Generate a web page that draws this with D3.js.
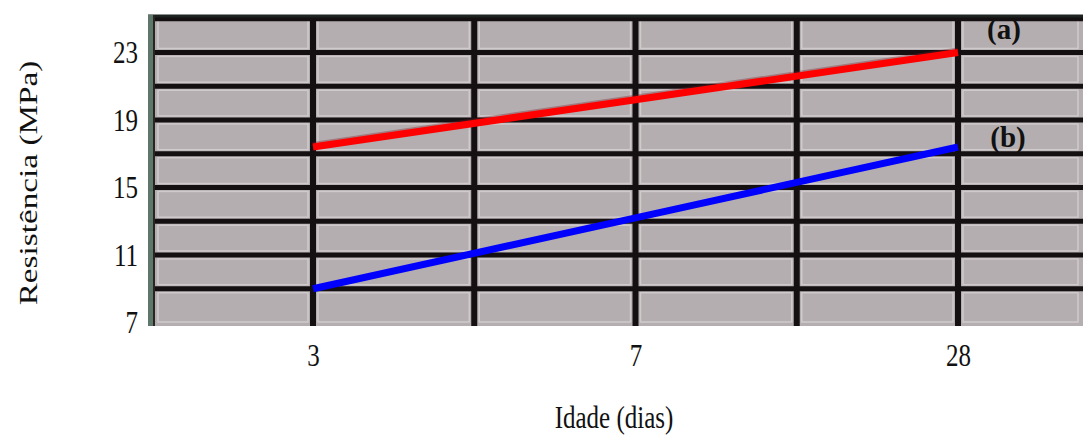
<!DOCTYPE html>
<html>
<head>
<meta charset="utf-8">
<script src="https://cdn.jsdelivr.net/npm/d3@7"></script>
<style>
  html, body { margin: 0; padding: 0; background: #ffffff; }
  svg { display: block; }
  text { font-family: "Liberation Serif", "Times New Roman", serif; fill: #111; }
</style>
</head>
<body>
<svg id="chart" width="1083" height="436"></svg>
<script>
// Compressive strength by age
const ages = ["3", "7", "28"];
const seriesA = [17.4, 20.2, 23.0];   // (a)
const seriesB = [9.0, 13.2, 17.4];    // (b)
const yTicks = [7, 11, 15, 19, 23];
const gridValues = [9, 11, 13, 15, 17, 19, 21, 23, 25];

const plot = { left: 148, right: 1083, top: 15, bottom: 326 };
const stretch = 1.3;   // type is drawn taller than wide

const svg = d3.select("#chart");

const x = d3.scalePoint().domain(ages).range([313, 958]);
const y = d3.scaleLinear().domain([6.79, 25.22]).range([plot.bottom, plot.top]);

// Tiled board behind the plot
svg.append("rect")
  .attr("x", plot.left).attr("y", plot.top)
  .attr("width", plot.right - plot.left).attr("height", plot.bottom - plot.top)
  .attr("fill", "#b5aeb0");

// Light bevel just inside each tile edge
const hLines = gridValues.map(v => y(v));
const rowEdges = [plot.top].concat(hLines.filter(v => v > plot.top + 4)).concat([plot.bottom]).sort((a, b) => a - b);
const vMid = [(x("3") + x("7")) / 2, (x("7") + x("28")) / 2];
const vLines = [x("3"), vMid[0], x("7"), vMid[1], x("28")];
const colEdges = [plot.left + 5].concat(vLines).concat([plot.right]);
const tiles = svg.append("g");
for (let r = 0; r < rowEdges.length - 1; r++) {
  for (let c = 0; c < colEdges.length - 1; c++) {
    const x0 = colEdges[c] + 5, x1 = colEdges[c + 1] - 5;
    const y0 = rowEdges[r] + 4, y1 = rowEdges[r + 1] - 4;
    if (x1 - x0 < 4 || y1 - y0 < 4) continue;
    tiles.append("rect")
      .attr("x", x0).attr("y", y0)
      .attr("width", x1 - x0).attr("height", y1 - y0)
      .attr("fill", "none")
      .attr("stroke", "#d6d1d2").attr("stroke-width", 1.5).attr("opacity", 0.8);
  }
}

// Grout lines
const grid = svg.append("g").attr("stroke", "#141012");
grid.selectAll("line.h").data(gridValues.filter(v => y(v) > plot.top + 2)).join("line")
  .attr("class", "h")
  .attr("x1", plot.left).attr("x2", plot.right)
  .attr("y1", d => y(d)).attr("y2", d => y(d))
  .attr("stroke-width", 5);
grid.selectAll("line.v").data(vLines).join("line")
  .attr("class", "v")
  .attr("x1", d => d).attr("x2", d => d)
  .attr("y1", plot.top).attr("y2", plot.bottom)
  .attr("stroke-width", 6);

// Board edges
svg.append("line")
  .attr("x1", plot.left).attr("x2", plot.right)
  .attr("y1", plot.top + 1).attr("y2", plot.top + 1)
  .attr("stroke", "#1d2420").attr("stroke-width", 3);
svg.append("rect")
  .attr("x", plot.left).attr("y", plot.top)
  .attr("width", 6).attr("height", plot.bottom - plot.top)
  .attr("fill", "#5d786a");
svg.append("line")
  .attr("x1", plot.left + 6).attr("x2", plot.left + 6)
  .attr("y1", plot.top).attr("y2", plot.bottom)
  .attr("stroke", "#2a2424").attr("stroke-width", 2);

// Series lines
const line = d3.line().x((d, i) => x(ages[i])).y(d => y(d));
svg.append("path").datum(seriesA)
  .attr("d", line).attr("fill", "none")
  .attr("stroke", "#7a1a22").attr("stroke-width", 7).attr("opacity", 0.35)
  .attr("transform", "translate(0,-1.5)");
svg.append("path").datum(seriesA)
  .attr("d", line).attr("fill", "none")
  .attr("stroke", "#ff0000").attr("stroke-width", 7);
svg.append("path").datum(seriesB)
  .attr("d", line).attr("fill", "none")
  .attr("stroke", "#0000ff").attr("stroke-width", 7);

// Series labels
svg.append("text").attr("x", 1004).attr("y", 39)
  .attr("text-anchor", "middle").attr("font-weight", "bold").attr("font-size", 29)
  .text("(a)");
svg.append("text").attr("x", 1008).attr("y", 147)
  .attr("text-anchor", "middle").attr("font-weight", "bold").attr("font-size", 29)
  .text("(b)");

// Y axis labels
const yAxis = d3.axisLeft(y).tickValues(yTicks).tickSize(0).tickPadding(0).tickFormat(d3.format("d"));
const gy = svg.append("g").attr("transform", "translate(138,0)").call(yAxis);
gy.select(".domain").remove();
gy.selectAll("text")
  .attr("font-size", 25).attr("font-family", "Liberation Serif, serif").attr("fill", "#111")
  .attr("transform", `scale(1,${stretch})`);

// X axis labels
const xAxis = d3.axisBottom(x).tickSize(0).tickPadding(0);
const gx = svg.append("g").attr("transform", "translate(0,343)").call(xAxis);
gx.select(".domain").remove();
gx.selectAll("text")
  .attr("font-size", 25).attr("font-family", "Liberation Serif, serif").attr("fill", "#111")
  .attr("transform", `scale(1,${stretch})`);

// Axis titles
svg.append("text")
  .attr("transform", `translate(37,183) scale(1,1.33) rotate(-90)`)
  .attr("text-anchor", "middle").attr("font-size", 25)
  .text("Resistência (MPa)");
svg.append("text")
  .attr("transform", `translate(614,428) scale(1,${stretch})`)
  .attr("text-anchor", "middle").attr("font-size", 25)
  .text("Idade (dias)");
</script>
</body>
</html>
